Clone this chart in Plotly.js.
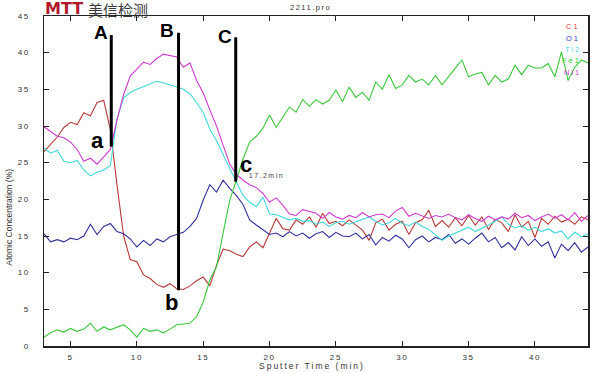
<!DOCTYPE html>
<html><head><meta charset="utf-8">
<script src="https://cdn.plot.ly/plotly-3.0.1.min.js"></script>
<style>
html,body{margin:0;padding:0;background:#fff;}
#chart{width:600px;height:373px;}
.xtick text,.ytick text{letter-spacing:1.6px;}
</style></head><body><div id="chart"></div>
<script>
// Sputter time (min)
const time = [3,3.5,4,4.5,5,5.5,6,6.5,7,7.5,
 8,8.5,9,9.5,10,10.5,11,11.5,12,12.5,
 13,13.5,14,14.5,15,15.5,16,16.5,17,17.5,
 18,18.5,19,19.5,20,20.5,21,21.5,22,22.5,
 23,23.5,24,24.5,25,25.5,26,26.5,27,27.5,
 28,28.5,29,29.5,30,30.5,31,31.5,32,32.5,
 33,33.5,34,34.5,35,35.5,36,36.5,37,37.5,
 38,38.5,39,39.5,40,40.5,41,41.5,42,42.5,
 43,43.5,44];
// Atomic concentration (%)
const c1 = [26.5,27.5,28.5,29.8,30.5,30.2,31.8,31.4,33.2,33.5,
 29.5,22.0,15.0,11.8,11.5,9.7,9.2,8.4,8.0,8.5,
 7.8,7.7,8.2,8.9,9.4,8.2,11.0,13.2,13.0,12.5,
 12.2,13.5,14.2,13.4,15.5,17.4,16.0,15.8,17.2,16.6,
 17.6,16.2,18.1,16.7,17.0,16.4,17.2,16.5,15.8,14.4,
 16.8,17.3,15.8,16.6,17.0,15.2,16.8,17.2,18.5,16.3,
 17.1,16.2,17.5,16.4,17.8,16.5,17.6,15.9,17.3,16.8,
 15.6,17.9,16.2,17.0,14.8,17.4,16.6,17.7,16.9,17.3,
 16.6,17.6,17.2];
const o1 = [15.3,14.2,14.5,14.2,14.7,14.5,15.0,16.6,15.2,16.3,
 16.7,15.6,15.3,14.6,13.5,14.4,13.7,14.6,14.2,14.9,
 15.2,15.5,16.3,17.4,19.9,22.0,21.0,22.6,21.5,20.5,
 19.3,17.2,16.5,15.8,15.2,15.4,14.9,15.6,15.0,15.4,
 14.7,15.3,15.6,14.8,15.5,15.0,14.9,15.4,14.6,15.2,
 13.8,14.8,14.3,15.1,14.6,13.4,14.5,15.0,14.2,14.8,
 14.5,15.2,14.0,14.6,13.9,14.7,15.4,14.2,14.8,13.4,
 14.1,13.1,14.9,13.7,14.6,13.6,14.2,12.0,13.9,13.0,
 14.1,12.8,13.5];
const ti2 = [27.0,26.3,26.7,25.2,25.0,25.3,24.0,23.2,23.7,24.0,
 24.6,31.0,33.8,34.6,35.0,35.4,35.8,36.1,35.9,35.6,
 35.3,35.0,34.4,33.2,31.8,29.6,28.0,26.0,24.2,22.4,
 20.5,19.6,19.0,20.3,18.0,17.9,17.5,17.2,17.4,17.0,
 17.1,16.6,16.9,16.3,16.8,17.0,16.6,16.9,17.2,17.6,
 17.0,16.5,16.8,17.4,16.7,16.4,16.9,16.3,15.9,15.2,
 14.4,15.0,15.4,15.8,16.2,15.6,16.0,16.5,17.0,17.6,
 16.6,16.1,16.4,15.8,16.2,15.6,16.0,15.4,15.7,14.6,
 15.5,14.9,15.3];
const fe1 = [1.2,1.8,2.2,1.9,2.4,2.0,2.3,3.1,2.0,2.6,
 2.2,2.6,2.9,2.2,1.2,2.4,2.0,2.2,1.8,2.3,
 2.9,3.0,3.1,4.0,6.0,9.0,10.8,15.4,19.9,22.6,
 25.5,27.8,28.6,29.7,31.5,29.8,31.2,32.6,31.9,33.6,
 32.7,33.6,33.0,33.5,34.9,33.3,35.3,33.9,34.6,33.5,
 36.0,35.0,37.0,35.1,35.6,36.9,36.0,36.4,35.6,36.9,
 35.6,36.8,37.9,39.0,36.7,37.1,37.3,35.6,36.9,36.0,
 36.4,38.3,37.0,38.3,37.9,37.9,38.5,36.7,40.1,36.2,
 38.0,39.0,38.6];
const ni1 = [29.9,29.3,28.6,28.4,27.8,26.8,25.2,25.6,24.8,25.8,
 26.8,30.8,34.3,36.8,37.8,38.7,38.4,39.2,39.8,39.6,
 39.4,38.0,38.6,36.2,34.5,32.2,30.0,27.4,24.8,23.4,
 22.6,22.0,21.6,20.8,19.6,20.2,19.2,18.0,17.8,18.6,
 18.3,18.1,17.4,18.2,17.6,17.3,17.8,17.5,18.2,17.6,
 17.9,18.0,17.5,18.4,18.9,17.7,18.1,17.8,17.4,17.8,
 17.6,18.0,17.5,17.2,17.9,17.4,17.0,17.7,17.2,17.6,
 17.3,18.1,17.5,17.8,17.1,17.6,18.0,17.4,17.9,17.2,
 18.2,17.0,17.8];

const seriesNames = ['C1','O1','Ti2','Fe1','Ni1'];
const seriesData = [c1, o1, ti2, fe1, ni1];
const lineColors = ['#b83a3a','#30309a','#40d8d8','#3cc83c','#cc3ccc'];
const labelColors = ['#e03a3a','#3a3ad0','#40e0e0','#30d030','#d040d0'];

// Marked depths A, B, C and points a, b, c
const markLabels = ['A','B','C'];
const pointLabels = ['a','b','c'];
const markTimes = [8.07, 13.14, 17.45];
const markTops = [42.4, 42.7, 42.1];
const markBottoms = [27.2, 7.6, 22.4];
const markNote = '17.2min';

const traces = seriesData.map((d,i)=>({
  x: time, y: d, type:'scatter', mode:'lines', name: seriesNames[i],
  line:{color: lineColors[i], width:1.1}, showlegend:false
}));

const shapes = markTimes.map((t,i)=>({
  type:'line', xref:'x', yref:'y', x0:t, x1:t, y0:markBottoms[i], y1:markTops[i],
  line:{color:'#000', width:3}
}));

const ann = [];
const bigFont = {family:'Liberation Sans, Arial, sans-serif', size:19, color:'#000'};
const capShift = [[-1,3],[-3,2],[-2,1]];
markTimes.forEach((t,i)=>{
  ann.push({x:t, y:markTops[i], xref:'x', yref:'y', text:'<b>'+markLabels[i]+'</b>', showarrow:false,
    xanchor:'right', yanchor:'middle', xshift:capShift[i][0], yshift:capShift[i][1], font:bigFont});
});
const lowFont = {family:'Liberation Sans, Arial, sans-serif', size:22, color:'#000'};
ann.push({x:markTimes[0], y:markBottoms[0], xref:'x', yref:'y', text:'<b>'+pointLabels[0]+'</b>', showarrow:false,
  xanchor:'right', yanchor:'middle', xshift:-5, yshift:6, font:lowFont});
ann.push({x:markTimes[1], y:markBottoms[1], xref:'x', yref:'y', text:'<b>'+pointLabels[1]+'</b>', showarrow:false,
  xanchor:'center', yanchor:'top', xshift:-7, yshift:2, font:lowFont});
ann.push({x:markTimes[2], y:markBottoms[2], xref:'x', yref:'y', text:'<b>'+pointLabels[2]+'</b>', showarrow:false,
  xanchor:'left', yanchor:'bottom', xshift:2, yshift:3, font:lowFont});
ann.push({x:markTimes[2], y:markBottoms[2], xref:'x', yref:'y', text:markNote, showarrow:false,
  xanchor:'left', yanchor:'middle', xshift:16, yshift:6,
  font:{family:'Liberation Sans, Arial, sans-serif', size:7, color:'#444'}});

// legend labels
seriesNames.forEach((n,i)=>{
  ann.push({x:0.985, y:0.9676 - i*0.0345, xref:'paper', yref:'paper', text:n, showarrow:false,
    xanchor:'right', yanchor:'middle', font:{family:'Liberation Sans, Arial, sans-serif', size:7.5, color:labelColors[i]}});
});

// header
ann.push({x:0, y:1.0485, xref:'paper', yref:'paper', text:'<b>MTT</b>', showarrow:false, xanchor:'left', yanchor:'top',
  borderpad:0, yshift:2, font:{family:'DejaVu Sans, sans-serif', size:16, color:'#b0182c'}});
ann.push({x:0.079, y:1.0485, xref:'paper', yref:'paper', text:'美信检测', showarrow:false, xanchor:'left', yanchor:'top',
  borderpad:0, yshift:2, font:{family:'Noto Sans CJK SC, sans-serif', size:15, color:'#3a3a3a'}});
ann.push({x:0.49, y:1.027, xref:'paper', yref:'paper', text:'2211.pro', showarrow:false, xanchor:'center', yanchor:'middle',
  font:{family:'Liberation Sans, Arial, sans-serif', size:7.5, color:'#333'}});
// axis titles
ann.push({x:0.493, y:-0.062, xref:'paper', yref:'paper', text:'Sputter Time (min)', showarrow:false, xanchor:'center', yanchor:'middle',
  font:{family:'Liberation Sans, Arial, sans-serif', size:8.5, color:'#333'}});
ann.push({x:-0.0635, y:0.39, xref:'paper', yref:'paper', text:'Atomic Concentration (%)', showarrow:false, textangle:-90,
  xanchor:'center', yanchor:'middle',
  font:{family:'Liberation Sans, Arial, sans-serif', size:8.5, color:'#333'}});

const axisCommon = {showgrid:false, zeroline:false, showline:true, linecolor:'#222', linewidth:1.5,
  mirror:'ticks', ticks:'inside', ticklen:5, tickcolor:'#222', tickwidth:1,
  tickfont:{family:'Liberation Sans, Arial, sans-serif', size:8, color:'#333'}};

const layout = {
  width:600, height:373, margin:{l:44, r:12, t:16, b:27},
  paper_bgcolor:'#fff', plot_bgcolor:'#fff',
  xaxis: Object.assign({}, axisCommon, {range:[3,44], tickmode:'linear', tick0:5, dtick:5, ticklabelstandoff:3}),
  yaxis: Object.assign({}, axisCommon, {range:[0,45], tickmode:'linear', tick0:0, dtick:5, ticklabelstandoff:11}),
  shapes: shapes, annotations: ann, showlegend:false
};

Plotly.newPlot('chart', traces, layout, {staticPlot:true}).then(()=>{
  const spaced = {'Sputter Time (min)':'2px','2211.pro':'1.5px','17.2min':'1.5px','C1':'2px','O1':'2px','Ti2':'2px','Fe1':'2px','Ni1':'2px'};
  document.querySelectorAll('.annotation-text').forEach(t=>{
    const k = t.textContent;
    if (spaced[k]) t.style.letterSpacing = spaced[k];
  });
});
</script></body></html>
